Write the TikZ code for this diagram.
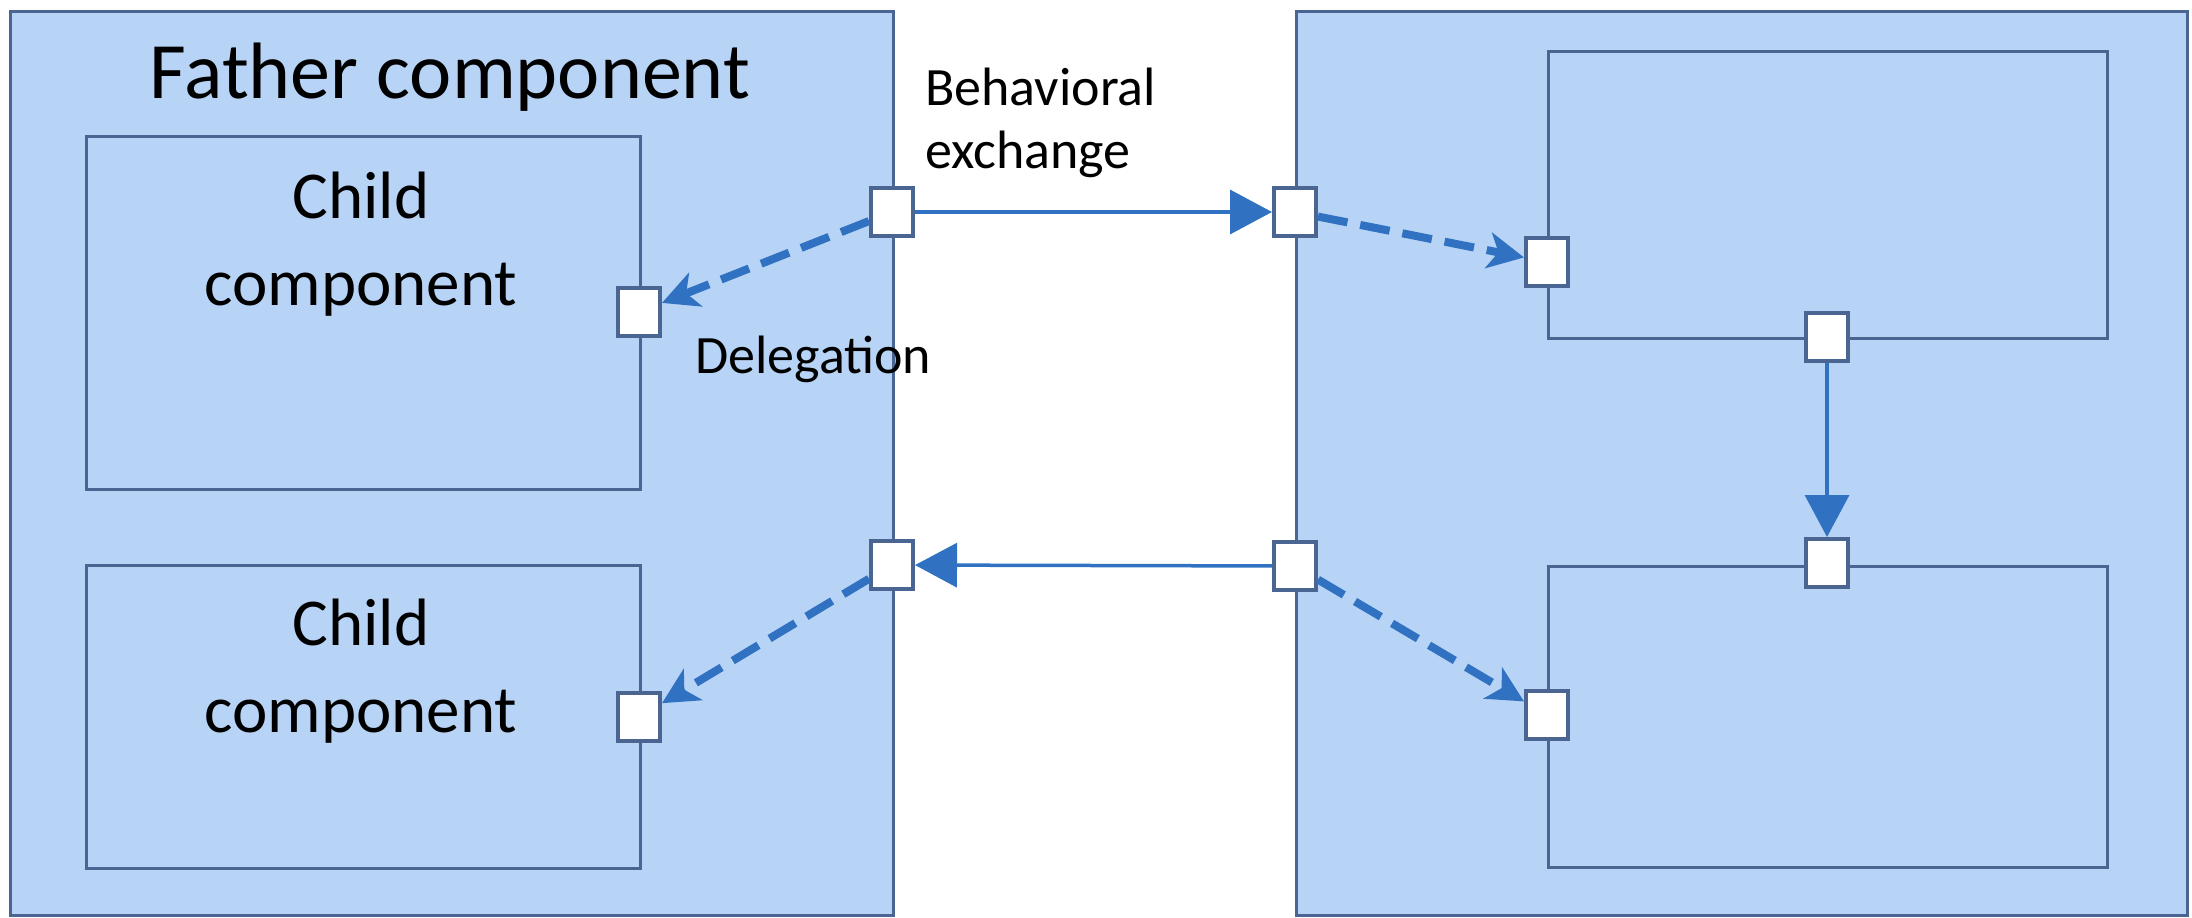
\documentclass[tikz,border=0pt]{standalone}
\usepackage{fontspec}
\setmainfont{Carlito}
\usetikzlibrary{arrows.meta}
\definecolor{boxfill}{HTML}{B7D3F5}
\definecolor{boxline}{HTML}{4A6592}
\definecolor{arrowblue}{HTML}{3071C2}
\tikzset{
  comp/.style={draw=boxline, fill=boxfill, line width=3pt, rectangle, anchor=north west, inner sep=0pt},
  port/.style={draw=boxline, fill=white, line width=4pt, rectangle, minimum width=42pt, minimum height=48pt, inner sep=0pt},
  exch/.style={draw=arrowblue, line width=3.5pt, -{Triangle[length=42pt,width=44pt]}},
  deleg/.style={draw=arrowblue, line width=8pt, dash pattern=on 30pt off 13pt, -{Stealth[length=36pt,width=36pt,inset=10pt]}},
  lbl/.style={inner sep=0pt, font=\fontsize{54pt}{63pt}\selectfont, align=left},
  big/.style={inner sep=0pt, font=\fontsize{67pt}{87pt}\selectfont, align=center},
}
\begin{document}
\begin{tikzpicture}[x=1pt,y=-1pt]
\useasboundingbox (0,0) rectangle (2192,918);
% big components
\node[comp, minimum width=883pt, minimum height=904pt] (father) at (9,10) {};
\node[comp, minimum width=891pt, minimum height=904pt] (right) at (1295,10) {};
% children
\node[comp, minimum width=554pt, minimum height=353pt] (child1) at (85,135) {};
\node[comp, minimum width=554pt, minimum height=303pt] (child2) at (85,564) {};
\node[comp, minimum width=559pt, minimum height=287pt] (rtop) at (1547,50) {};
\node[comp, minimum width=559pt, minimum height=301pt] (rbot) at (1547,565) {};
% texts
\node[inner sep=0pt, anchor=base, font=\fontsize{80pt}{96pt}\selectfont] (ftitle) at (450,98) {Father component};
\node[big, anchor=base] (c1text) at (361,305) {Child\\component};
\node[big, anchor=base] (c2text) at (361,732) {Child\\component};
\node[lbl, anchor=base west] (bex) at (925,168) {Behavioral\\exchange};
\node[lbl, anchor=base west] (dlg) at (695,373) {Delegation};
% ports
\node[port] (p1) at (892,212) {};
\node[port] (p2) at (1295,212) {};
\node[port] (p3) at (1547,262) {};
\node[port] (p4) at (1827,337) {};
\node[port] (p5) at (1827,563) {};
\node[port] (p6) at (1547,715) {};
\node[port] (p7) at (1295,566) {};
\node[port] (p8) at (892,565) {};
\node[port] (p9) at (639,312) {};
\node[port] (p10) at (639,717) {};
% connectors
\draw[exch] (p1) -- (p2);
\draw[exch] (p7) -- (p8);
\draw[exch] (p4) -- (p5);
\draw[deleg] (p1) -- (p9);
\draw[deleg] (p2) -- (p3);
\draw[deleg] (p7) -- (p6);
\draw[deleg] (p8) -- (p10);
\end{tikzpicture}
\end{document}
